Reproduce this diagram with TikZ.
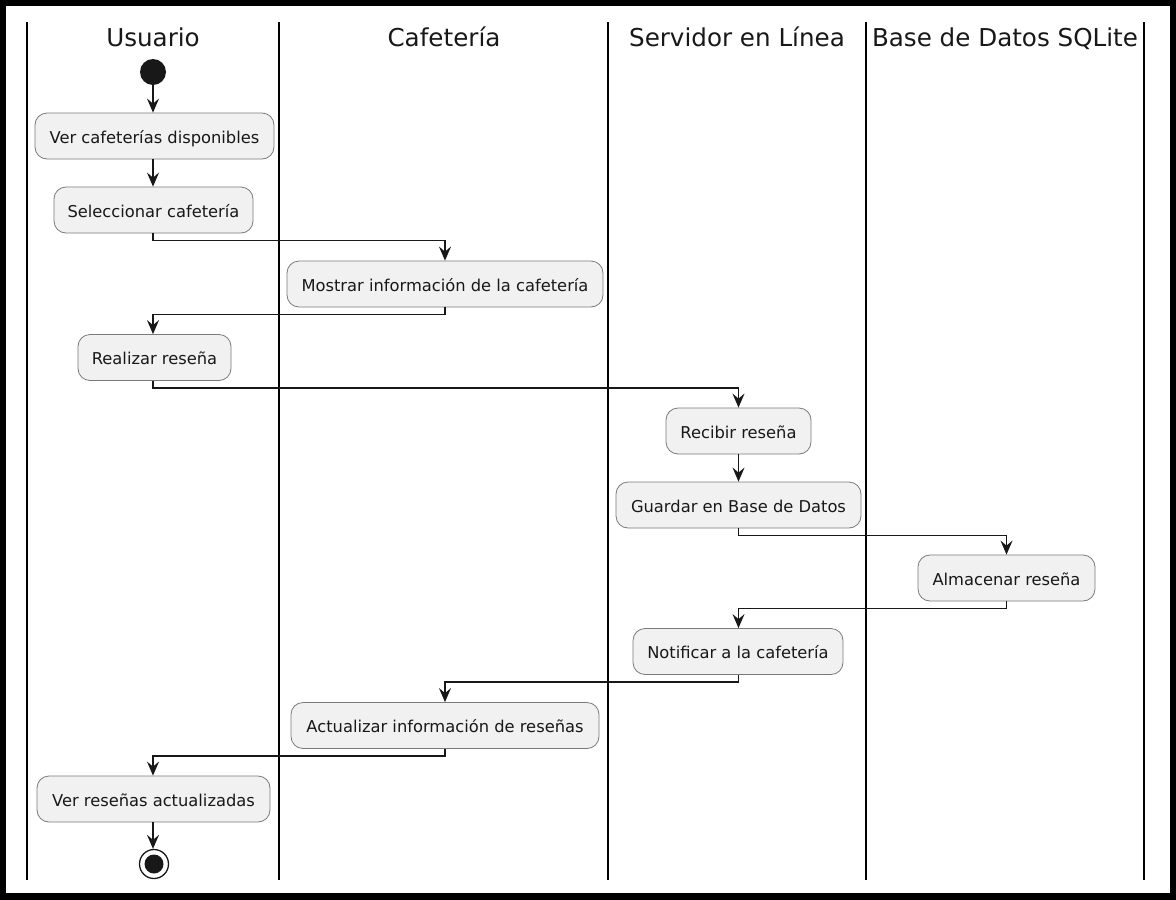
\documentclass[tikz,border=0pt]{standalone}
\usepackage{fontspec}
\setmainfont{DejaVu Sans}
\usetikzlibrary{arrows.meta,calc}
\definecolor{boxfill}{HTML}{F1F1F1}
\definecolor{boxline}{HTML}{7A7A7A}
\definecolor{ink}{HTML}{181818}
\tikzset{
  act/.style={draw=boxline, line width=0.8pt, fill=boxfill, rounded corners=12pt,
    minimum height=46pt, inner sep=0pt, text height=15.5pt, text depth=1.5pt,
    font=\fontsize{16.3}{19}\selectfont, text=ink},
  lane/.style={line width=2pt, draw=black},
  hdr/.style={font=\fontsize{24.6}{29}\selectfont, text=ink, inner sep=0pt, anchor=base},
  arr/.style={draw=ink, line width=1.4pt, -{Stealth[inset=5pt,length=14pt,width=12pt]}},
}
\begin{document}
\begin{tikzpicture}[x=1pt,y=-1pt]
\useasboundingbox (0,0) rectangle (1176,900);
\fill[black] (0,0) rectangle (1176,900);
\fill[white] (6,6) rectangle (1170,893);
% lanes
\foreach \x/\n in {27/l0,279/l1,608/l2,866/l3,1144/l4}{
  \coordinate (\n t) at (\x,22);
  \coordinate (\n b) at (\x,880);
  \draw[lane] (\n t) -- (\n b);
}
\node[hdr] (h1) at (153,46) {Usuario};
\node[hdr] (h2) at (444,46) {Cafetería};
\node[hdr] (h3) at (737,46) {Servidor en Línea};
\node[hdr] (h4) at (1005,46) {Base de Datos SQLite};
% nodes
\node[circle, fill=ink, minimum size=26pt, inner sep=0pt] (start) at (153,72) {};
\node[act, minimum width=239pt] (ver) at (154.5,136) {Ver cafeterías disponibles};
\node[act, minimum width=199pt] (sel) at (153.5,210) {Seleccionar cafetería};
\node[act, minimum width=316pt] (mos) at (445,284) {Mostrar información de la cafetería};
\node[act, minimum width=153pt] (rea) at (154.5,357.5) {Realizar reseña};
\node[act, minimum width=145pt] (rec) at (738.5,431) {Recibir reseña};
\node[act, minimum width=245pt] (gua) at (738.5,505) {Guardar en Base de Datos};
\node[act, minimum width=177pt] (alm) at (1006.5,578) {Almacenar reseña};
\node[act, minimum width=210pt] (not) at (738,651.5) {Notificar a la cafetería};
\node[act, minimum width=308pt] (act) at (445,725.5) {Actualizar información de reseñas};
\node[act, minimum width=233pt] (vrs) at (153.5,799) {Ver reseñas actualizadas};
\node[circle, draw=ink, line width=1.3pt, fill=white, minimum size=29pt, inner sep=0pt] (endo) at (154,864) {};
\node[circle, fill=ink, minimum size=19pt, inner sep=0pt] (endi) at (endo) {};
% connectors
\draw[arr] (start) -- (start |- ver.north);
\draw[arr] (ver.south -| start) -- (sel.north -| start);
\draw[arr] (sel.south -| start) -- ($(sel.south -| start)+(0,7)$) -| (mos.north);
\draw[arr] (mos.south) -- ($(mos.south)+(0,7)$) -| (rea.north -| start);
\draw[arr] (rea.south -| start) -- ($(rea.south -| start)+(0,7)$) -| (rec.north);
\draw[arr] (rec.south) -- (gua.north -| rec.south);
\draw[arr] (gua.south -| rec.south) -- ($(gua.south -| rec.south)+(0,7)$) -| (alm.north);
\draw[arr] (alm.south) -- ($(alm.south)+(0,7)$) -| (not.north -| rec.south);
\draw[arr] (not.south -| rec.south) -- ($(not.south -| rec.south)+(0,7)$) -| (act.north);
\draw[arr] (act.south) -- ($(act.south)+(0,7)$) -| (vrs.north -| start);
\draw[arr] (vrs.south -| start) -- (endo.north -| start);
\end{tikzpicture}
\end{document}
